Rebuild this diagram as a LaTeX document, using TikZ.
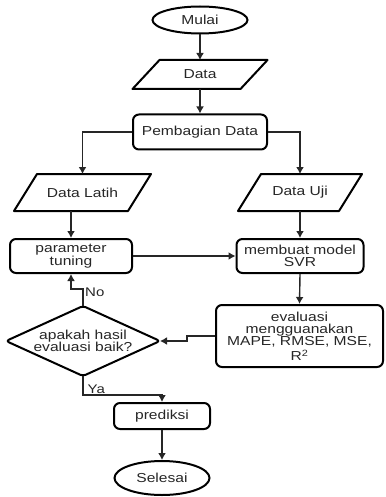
\documentclass[tikz,border=0pt]{standalone}
\usepackage{fontspec}
\setmainfont[FakeStretch=1.2]{Liberation Sans}
\usetikzlibrary{arrows.meta,shapes.geometric,calc}
\tikzset{
  base/.style={line width=2pt, text=black!85, align=center, inner sep=0pt,
    font=\fontsize{13}{12.5}\selectfont},
  term/.style={base, draw, ellipse},
  proc/.style={base, draw, rectangle, rounded corners=6pt},
  iobox/.style={base, rectangle},
  decbox/.style={base, rectangle},
  shapeline/.style={line width=2pt, line join=round},
  conn/.style={line width=1.4pt, black!85, -{Latex[length=7pt,width=8pt]}},
  lbl/.style={text=black!85, font=\fontsize{12.5}{12.5}\selectfont, inner sep=1.5pt}
}
\newcommand\ioshape[2]{\draw[shapeline] ($(#1.north west)+(#2,0)$) -- (#1.north east) -- ($(#1.south east)+(-#2,0)$) -- (#1.south west) -- cycle;}
\begin{document}
\begin{tikzpicture}[x=1pt,y=-1pt]
\useasboundingbox (0,0) rectangle (385,497);
\node[term, minimum width=95pt, minimum height=27pt] (mulai) at (200,20) {Mulai};
\node[iobox, minimum width=133pt, minimum height=27pt] (data) at (200,74.5) {Data};
\ioshape{data}{27}
\node[proc, minimum width=134pt, minimum height=35pt] (pd) at (200,132) {Pembagian Data};
\node[iobox, minimum width=135pt, minimum height=35pt] (dl) at (82.5,192.5) {Data Latih};
\ioshape{dl}{23}
\node[iobox, minimum width=122pt, minimum height=35pt] (du) at (300,192.5) {Data Uji};
\ioshape{du}{23}
\node[proc, minimum width=122pt, minimum height=34pt] (pt) at (71,256) {parameter\\tuning};
\node[proc, minimum width=127pt, minimum height=34pt] (mm) at (300,256) {membuat model\\SVR};
\node[proc, minimum width=167pt, minimum height=62pt, font=\fontsize{13}{12}\selectfont] (ev) at (299.5,336) {evaluasi\\mengguanakan\\MAPE, RMSE, MSE,\\[2pt]R\textsuperscript{2}};
\node[decbox, minimum width=152pt, minimum height=68pt] (dec) at (83,341) {apakah hasil\\evaluasi baik?};
\draw[shapeline, rounded corners=3pt] (dec.north) -- (dec.east) -- (dec.south) -- (dec.west) -- cycle;
\node[proc, minimum width=96pt, minimum height=26pt] (pr) at (162,416) {prediksi};
\node[term, minimum width=95pt, minimum height=34pt] (se) at (162,478) {Selesai};

\draw[conn] (mulai) -- (data);
\draw[conn] (data.south) -- (pd.north);
\draw[conn] (pd.west) -| (dl.north);
\draw[conn] (pd.east) -| (du.north);
\draw[conn] (dl.south -| pt.north) -- (pt.north);
\draw[conn] (du.south) -- (mm.north);
\draw[conn] (pt.east) -- (mm.west);
\draw[conn] (mm.south) -- (ev.north);
\draw[conn] (ev.west) -- ++(-28,0) |- (dec.east);
\draw[conn] (dec.north) -- node[lbl, right, pos=0.8] {No} ++(0,-17) -| (pt.south);
\draw[conn] (dec.south) -- ++(0,19) coordinate (yc) -| (pr.north);
\node[lbl, anchor=south west, xshift=3pt] at (yc) {Ya};
\draw[conn] (pr.south) -- (se.north);
\end{tikzpicture}
\end{document}
